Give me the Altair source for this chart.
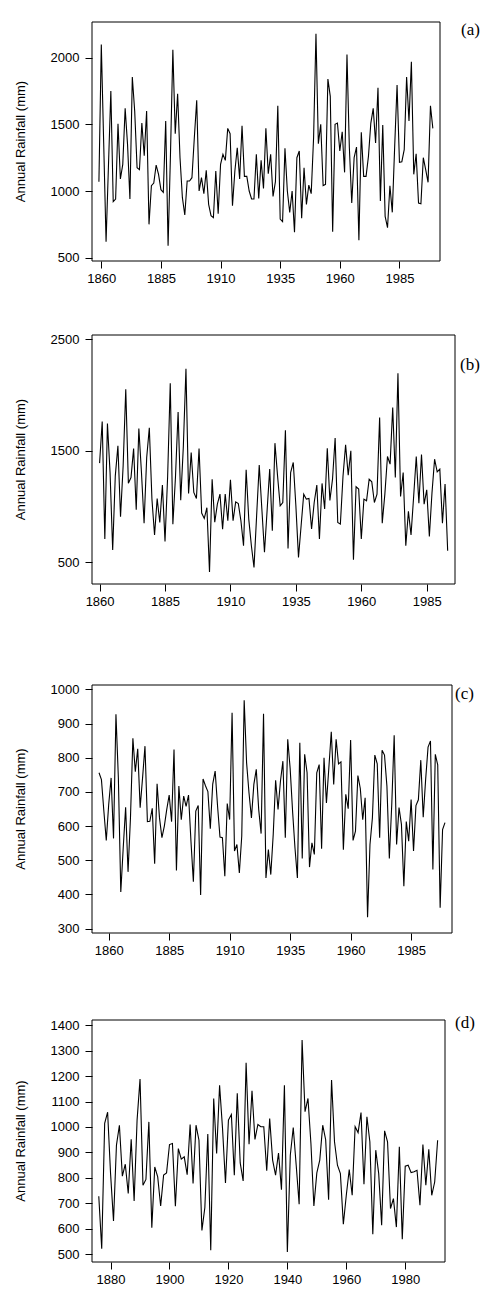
import altair as alt
import pandas as pd

# Annual rainfall (mm), one value per year, for four stations (a)-(d)
start_a = 1859
rain_a = [
    1070, 2100, 1360, 620, 1190, 1750, 920, 940, 1505, 1090,
    1200, 1620, 1350, 940, 1855, 1600, 1175, 1160, 1510, 1265,
    1600, 750, 1040, 1060, 1195, 1125, 1010, 990, 1525, 590,
    1275, 2060, 1430, 1730, 1250, 950, 820, 1075, 1075, 1100,
    1400, 1680, 1000, 1100, 980, 1155, 900, 815, 800, 1150,
    830, 1200, 1275, 1230, 1470, 1430, 890, 1150, 1325, 1090,
    1490, 1110, 1110, 1000, 940, 940, 1275, 945, 1230, 1020,
    1470, 1130, 1275, 960, 1070, 1640, 790, 770, 1320, 1000,
    840, 1000, 690, 1250, 1300, 795, 1175, 900, 1045, 980,
    1400, 2180, 1355, 1500, 1040, 1050, 1840, 1710, 695, 1500,
    1510, 1300, 1445, 1140, 2025, 1325, 910, 1250, 1330, 630,
    1440, 1110, 1110, 1260, 1510, 1620, 1360, 1775, 925, 1495,
    810, 725, 1040, 840, 1335, 1795, 1215, 1220, 1310, 1855,
    1525, 1970, 1125, 1280, 910, 905, 1250, 1160, 1065, 1640,
    1470,
]

start_b = 1860
rain_b = [
    1390, 1763, 709, 1745, 1306, 610, 1276, 1545, 909, 1366,
    2052, 1210, 1261, 1521, 972, 1700, 1306, 852, 1440, 1706,
    1067, 745, 1073, 858, 1193, 688, 1270, 2106, 843, 1267,
    1849, 1058, 1539, 2237, 1118, 1485, 1127, 1073, 1521, 942,
    894, 990, 413, 1246, 860, 1022, 1112, 798, 1112, 873,
    1240, 873, 1043, 1028, 873, 649, 1330, 888, 649, 455,
    918, 1372, 978, 590, 963, 1336, 784, 1569, 1276, 1007,
    1037, 1685, 625, 1306, 1396, 1007, 545, 828, 1112, 1067,
    1073, 799, 1037, 1193, 709, 1208, 978, 1524, 1055, 1246,
    1616, 858, 843, 1270, 1554, 1282, 1500, 524, 1178, 1157,
    709, 1067, 1052, 1246, 1222, 1037, 1112, 1798, 852, 1112,
    1449, 1381, 1888, 1261, 2195, 1091, 1306, 649, 957, 745,
    1091, 1449, 1031, 1467, 1022, 1151, 733, 1121, 1425, 1312,
    1336, 852, 1202, 604,
]

start_c = 1856
rain_c = [
    756, 736, 644, 558, 663, 741, 564, 927, 741, 407,
    536, 655, 466, 624, 857, 759, 826, 654, 741, 834,
    613, 614, 652, 490, 724, 624, 566, 600, 649, 691,
    613, 824, 470, 717, 619, 688, 658, 691, 556, 437,
    644, 660, 398, 738, 718, 701, 592, 723, 761, 658,
    568, 566, 453, 666, 619, 932, 527, 546, 463, 571,
    968, 785, 697, 624, 722, 766, 649, 578, 929, 448,
    531, 458, 575, 734, 649, 732, 790, 566, 854, 769,
    644, 536, 448, 844, 505, 810, 756, 480, 551, 517,
    756, 780, 534, 800, 668, 771, 876, 722, 854, 782,
    788, 531, 693, 651, 852, 558, 585, 748, 710, 619,
    683, 333, 546, 624, 808, 782, 566, 822, 808, 717,
    505, 663, 866, 546, 654, 605, 424, 613, 556, 678,
    527, 660, 677, 793, 626, 736, 831, 849, 473, 810,
    779, 361, 590, 610,
]

start_d = 1876
rain_d = [
    728, 522, 1014, 1058, 817, 631, 929, 1007, 807, 854,
    739, 952, 710, 1027, 1188, 771, 794, 1020, 605, 843,
    804, 690, 811, 820, 931, 935, 689, 915, 874, 883,
    813, 1010, 778, 1007, 948, 594, 684, 972, 516, 1112,
    896, 1164, 994, 780, 1027, 1049, 811, 1132, 859, 788,
    1252, 932, 1142, 951, 1010, 1001, 1001, 828, 1033, 870,
    811, 898, 754, 1164, 509, 889, 998, 850, 697, 1341,
    1060, 1112, 935, 690, 820, 870, 1007, 950, 714, 1184,
    942, 850, 817, 618, 732, 833, 732, 1001, 978, 1057,
    775, 1040, 942, 579, 909, 817, 614, 985, 942, 680,
    719, 607, 922, 559, 846, 850, 821, 824, 830, 693,
    931, 771, 912, 732, 784, 948,
]

years_ticks_abc = [1860, 1885, 1910, 1935, 1960, 1985]
years_ticks_d = [1880, 1900, 1920, 1940, 1960, 1980]
rain_ticks_a = [500, 1000, 1500, 2000]
rain_ticks_b = [500, 1500, 2500]
rain_ticks_c = [300, 400, 500, 600, 700, 800, 900, 1000]
rain_ticks_d = [500, 600, 700, 800, 900, 1000, 1100, 1200, 1300, 1400]

SANS = "Liberation Sans"
SERIF = "Liberation Serif"
Y_TITLE = "Annual Rainfall (mm)"


def axis(ticks):
    return alt.Axis(
        values=ticks, format="d", title=None, domain=False, grid=False,
        tickSize=7, tickColor="black", tickWidth=1,
        labelFont=SANS, labelFontSize=13, labelColor="black",
        labelFlush=False, labelOverlap=False,
    )


def panel(tag, start, values, x_dom, y_dom, x_ticks, y_ticks, w, h, gap,
          tag_dx, tag_dy):
    df = pd.DataFrame({"year": list(range(start, start + len(values))),
                       "rain": values})
    one = pd.DataFrame({"k": [0]})
    total_h = gap + h

    x_axis = axis(x_ticks)
    x_axis["labelPadding"] = 4
    y_axis = axis(y_ticks)
    y_axis["labelPadding"] = 6

    line = alt.Chart(df).mark_line(color="black", strokeWidth=1.1).encode(
        x=alt.X("year:Q", axis=x_axis,
                scale=alt.Scale(domain=x_dom, nice=False, zero=False)),
        y=alt.Y("rain:Q", axis=y_axis,
                scale=alt.Scale(domain=y_dom, nice=False, zero=False,
                                range=[total_h, gap])),
    )
    frame = alt.Chart(one).mark_rect(
        fillOpacity=0, stroke="black", strokeWidth=1
    ).encode(x=alt.value(0), x2=alt.value(w),
             y=alt.value(gap), y2=alt.value(total_h))
    y_title = alt.Chart(one).mark_text(
        text=Y_TITLE, angle=270, font=SANS, fontSize=13, color="black",
        align="center", baseline="middle",
    ).encode(x=alt.value(-71), y=alt.value(gap + h / 2))
    label = alt.Chart(one).mark_text(
        text=tag, font=SERIF, fontSize=17, color="black",
        align="left", baseline="middle",
    ).encode(x=alt.value(tag_dx), y=alt.value(gap + tag_dy))

    return alt.layer(frame, line, y_title, label).properties(
        width=w, height=total_h)


pa = panel("(a)", start_a, rain_a, [1856.1, 2002.0], [475, 2268],
           years_ticks_abc, rain_ticks_a, 348, 239, 0, 369, 8)
pb = panel("(b)", start_b, rain_b, [1857.1, 1995.8], [306, 2539],
           years_ticks_abc, rain_ticks_b, 363, 249, 0, 368, 30)
pc = panel("(c)", start_c, rain_c, [1853.1, 2001.9], [287, 1013],
           years_ticks_abc, rain_ticks_c, 360, 248, 29, 363, 9)
pd_ = panel("(d)", start_d, rain_d, [1873.7, 1993.5], [470, 1420],
            years_ticks_d, rain_ticks_d, 353, 242, 15, 363, 3)

chart = alt.vconcat(pa, pb, pc, pd_, spacing=48).properties(
    padding={"left": 15, "top": 21, "right": 0, "bottom": 5},
    background="white",
).configure_view(stroke=None)

chart.save("out.html", embed_options={"renderer": "svg", "actions": False})
